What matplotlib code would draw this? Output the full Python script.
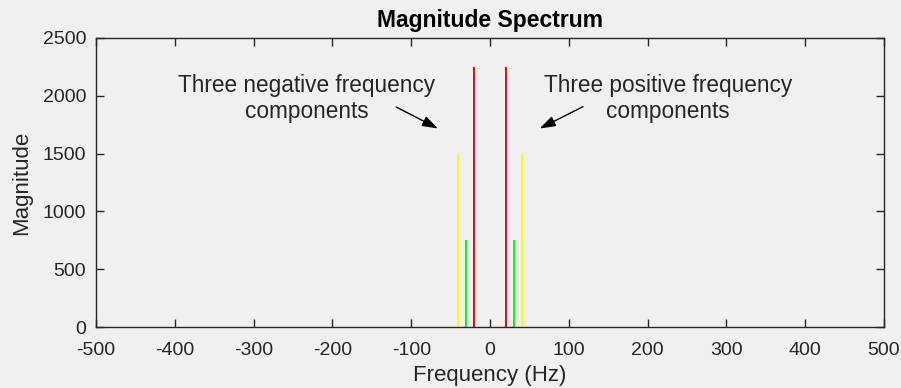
import matplotlib
matplotlib.use("Agg")
import matplotlib.pyplot as plt

# Spectral components: frequency (Hz), magnitude, colour
freqs = [-40, -30, -20, 20, 30, 40]
mags = [1500, 750, 2250, 2250, 750, 1500]
colors = ["#FFFF00", "#00FF00", "#FF0000", "#FF0000", "#00FF00", "#FFFF00"]

xticks = [-500, -400, -300, -200, -100, 0, 100, 200, 300, 400, 500]
yticks = [0, 500, 1000, 1500, 2000, 2500]

bg = "#F0F0F0"
fg = "#262626"
plt.rcParams["font.family"] = ["Liberation Sans", "DejaVu Sans"]

fig = plt.figure(figsize=(9.01, 3.88), dpi=100, facecolor=bg)
ax = fig.add_axes([96 / 901, 61 / 388, 788 / 901, 289 / 388])
ax.set_facecolor(bg)

ax.vlines(freqs, 0, mags, colors=colors, linewidth=1.4)

ax.set_xlim(-500, 500)
ax.set_ylim(0, 2500)
ax.set_xticks(xticks)
ax.set_yticks(yticks)
ax.set_xticklabels([str(v) for v in xticks])
ax.set_yticklabels([str(v) for v in yticks])

for s in ax.spines.values():
    s.set_color(fg)
    s.set_linewidth(1.0)
ax.tick_params(direction="in", length=6, width=1.0, colors=fg,
               labelsize=14, top=True, right=True, labelcolor=fg)
ax.tick_params(axis="y", pad=7)
ax.tick_params(axis="x", pad=11)

ax.set_title("Magnitude Spectrum", fontsize=16.5, fontweight="bold",
             color="black", pad=8)
ax.set_xlabel("Frequency (Hz)", fontsize=16, color=fg, labelpad=4)
ax.set_ylabel("Magnitude", fontsize=16, color=fg, labelpad=8)

arrow = dict(arrowstyle="-|>,head_length=0.6,head_width=0.2", color="black",
             lw=1.0, mutation_scale=16, shrinkA=0, shrinkB=0)
ax.annotate("", xy=(-66, 1717), xytext=(-119, 1903), arrowprops=arrow)
ax.annotate("", xy=(63, 1717), xytext=(118, 1906), arrowprops=arrow)

ax.text(-233, 1975, "Three negative frequency\ncomponents", ha="center",
        va="center", fontsize=16.3, color=fg, linespacing=1.2)
ax.text(226, 1975, "Three positive frequency\ncomponents", ha="center",
        va="center", fontsize=16.3, color=fg, linespacing=1.2)

fig.savefig("out.png", dpi=100, facecolor=bg)
